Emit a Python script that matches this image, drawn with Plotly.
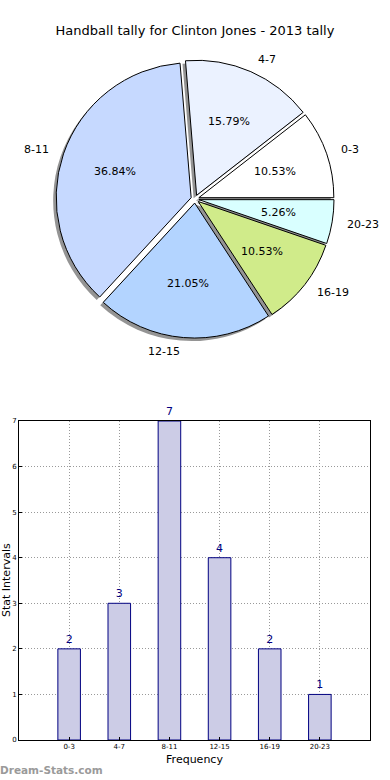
import math
import plotly.graph_objects as go

# ---- data ----
categories = ["0-3", "4-7", "8-11", "12-15", "16-19", "20-23"]
counts = [2, 3, 7, 4, 2, 1]
pie_colors = ["#FFFFFF", "#EBF2FF", "#C6D9FF", "#B3D4FF", "#D0EB8A", "#D9FFFF"]
pulls = [0.03, 0.03, 0.03, 0.03, 0.03, 0.03]
title_text = "Handball tally for Clinton Jones - 2013 tally"

W, H = 390, 780
FONT = "DejaVu Sans"
total = sum(counts)

# first slice starts at 3 o'clock and slices run counterclockwise
rot = 90 - 360 * counts[0] / total

def px_dom_x(a, b):
    return [a / W, b / W]

def px_dom_y(top, bottom):
    return [1 - bottom / H, 1 - top / H]

cx, cy, R = 195, 199, 135
D = R * (2 + 2 * max(pulls))
dom_x = px_dom_x(cx - D / 2, cx + D / 2)
dom_y = px_dom_y(cy - D / 2, cy + D / 2)
sh = 3
shadow_x = px_dom_x(cx - D / 2 - sh, cx + D / 2 - sh)
shadow_y = px_dom_y(cy - D / 2 + sh, cy + D / 2 + sh)

fig = go.Figure()

common = dict(labels=categories, values=counts, sort=False, direction="counterclockwise",
              rotation=rot, pull=pulls, showlegend=False, textinfo="none")

# shadow
fig.add_trace(go.Pie(
    **common, domain=dict(x=shadow_x, y=shadow_y),
    marker=dict(colors=["rgba(60,60,60,0.55)"] * len(counts), line=dict(width=0)),
    hoverinfo="skip",
))
# main pie
fig.add_trace(go.Pie(
    **common, domain=dict(x=dom_x, y=dom_y),
    marker=dict(colors=pie_colors, line=dict(color="#000000", width=1)),
))

# slice labels (matplotlib-style: percent at 0.6 R, label at 1.1 R)
annotations = []
cum = 0
for lab, v, p in zip(categories, counts, pulls):
    mid = math.radians(360 * (cum + v / 2) / total)
    cum += v
    ox = cx + p * R * math.cos(mid)
    oy = cy - p * R * math.sin(mid)
    px_ = ox + 0.6 * R * math.cos(mid)
    py_ = oy - 0.6 * R * math.sin(mid)
    annotations.append(dict(
        text=f"{100 * v / total:.2f}%", xref="paper", yref="paper",
        x=px_ / W, y=1 - py_ / H, xanchor="center", yanchor="middle", showarrow=False,
        font=dict(family=FONT, size=11, color="#000000")))
    lx = ox + 1.1 * R * math.cos(mid)
    ly = oy - 1.1 * R * math.sin(mid)
    annotations.append(dict(
        text=lab, xref="paper", yref="paper",
        x=lx / W, y=1 - ly / H, xanchor="left" if math.cos(mid) > 0 else "right",
        yanchor="middle", showarrow=False,
        font=dict(family=FONT, size=11, color="#000000")))

# bar chart
fig.add_trace(go.Bar(
    x=list(range(len(categories))), y=counts, width=0.45,
    marker=dict(color="#CCCCE6", line=dict(color="#000080", width=1)),
    text=[str(c) for c in counts], textposition="outside",
    textfont=dict(family=FONT, size=11, color="#000080"),
    cliponaxis=False, showlegend=False, xaxis="x", yaxis="y",
))

annotations += [
    dict(text="Stat Intervals", textangle=-90, xref="paper", yref="paper",
         x=6 / W, y=1 - 580 / H, xanchor="center", yanchor="middle", showarrow=False,
         font=dict(family=FONT, size=11, color="#000000")),
    dict(text="<b>Dream-Stats.com</b>", xref="paper", yref="paper",
         x=-2 / W, y=1 - 770 / H, xanchor="left", yanchor="middle", showarrow=False,
         font=dict(family=FONT, size=10.5, color="#9A9A9A")),
]

GRID = dict(showgrid=True, gridcolor="#999999", griddash="1px,2px", gridwidth=1)

fig.update_layout(
    template="none",
    width=W, height=H, margin=dict(l=0, r=0, t=0, b=0, autoexpand=False),
    paper_bgcolor="white", plot_bgcolor="white",
    font=dict(family=FONT, color="#000000"),
    title=dict(text=title_text, x=0.5, xanchor="center", y=1 - 30 / H, yanchor="middle",
               font=dict(family=FONT, size=13, color="#000000")),
    xaxis=dict(domain=px_dom_x(19, 370), range=[-1, 6], automargin=False,
               tickmode="array", tickvals=list(range(len(categories))), ticktext=categories,
               tickfont=dict(family=FONT, size=7), ticks="inside", ticklen=3, tickcolor="#000000",
               **GRID,
               showline=True, linecolor="#000000", linewidth=1, mirror=True,
               zeroline=False, anchor="y",
               title=dict(text="Frequency", font=dict(family=FONT, size=11), standoff=4)),
    yaxis=dict(domain=px_dom_y(421, 740), range=[0, 7], dtick=1, automargin=False,
               tickfont=dict(family=FONT, size=7), ticks="inside", ticklen=3, tickcolor="#000000",
               **GRID,
               showline=True, linecolor="#000000", linewidth=1, mirror=True,
               zeroline=False, anchor="x"),
    annotations=annotations,
)

fig.write_html("out.html", config={"displayModeBar": False},
               post_script="document.body.style.margin='0';document.body.style.overflow='hidden';")
